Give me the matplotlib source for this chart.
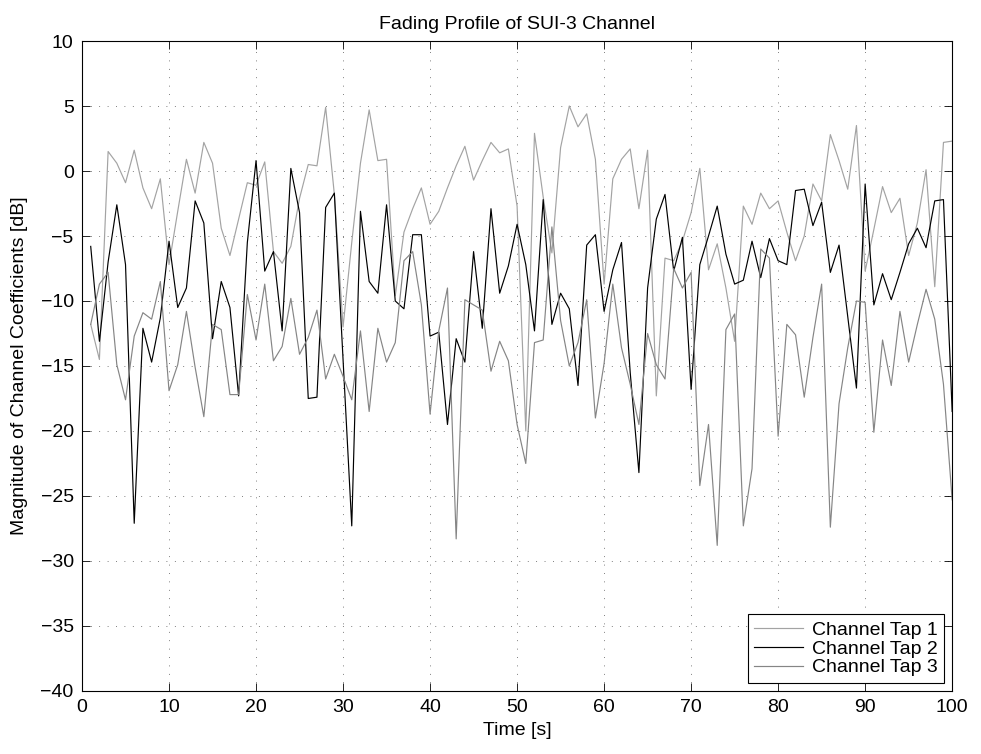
#!/usr/bin/env python3
"""Fading profile of SUI-3 channel taps."""
import matplotlib
matplotlib.use('Agg')
import matplotlib.pyplot as plt

plt.rcParams['font.family'] = ['Liberation Sans', 'DejaVu Sans']

time_s = list(range(1, 101))

tap1_db = [
    -11.8, -14.5, 1.5, 0.6, -0.9, 1.6, -1.3, -2.9, -0.6, -7.2,
    -3.1, 0.9, -1.7, 2.2, 0.6, -4.4, -6.5, -3.7, -0.9, -1.1,
    0.7, -6.2, -7.1, -5.8, -2.1, 0.5, 0.4, 4.9, -1.8, -12.0,
    -5.5, 0.6, 4.7, 0.8, 0.9, -9.6, -4.7, -2.9, -1.3, -4.1,
    -3.1, -1.3, 0.4, 1.9, -0.7, 0.8, 2.2, 1.4, 1.7, -2.7,
    -20.0, 2.9, -2.0, -6.3, 1.8, 5.0, 3.4, 4.4, 0.9, -8.7,
    -0.6, 0.9, 1.7, -2.9, 1.6, -17.3, -6.7, -6.9, -5.4, -3.2,
    0.2, -7.6, -5.6, -9.0, -13.1, -2.7, -4.1, -1.7, -2.9, -2.3,
    -4.7, -6.9, -5.0, -1.0, -2.3, 2.8, 0.8, -1.4, 3.5, -7.7,
    -4.5, -1.2, -3.2, -2.1, -6.5, -4.0, 0.1, -8.9, 2.2, 2.3,
]

tap2_db = [
    -5.8, -13.1, -7.0, -2.6, -7.2, -27.1, -12.1, -14.7, -11.3, -5.4,
    -10.5, -9.0, -2.3, -4.0, -12.9, -8.5, -10.5, -17.3, -5.5, 0.8,
    -7.7, -6.2, -12.3, 0.2, -3.2, -17.5, -17.4, -2.8, -1.7, -14.5,
    -27.3, -3.1, -8.5, -9.4, -2.6, -10.0, -10.6, -4.9, -4.9, -12.7,
    -12.4, -19.5, -12.9, -14.7, -6.2, -12.1, -2.9, -9.4, -7.3, -4.1,
    -7.2, -12.3, -2.2, -11.8, -9.4, -10.6, -16.5, -5.7, -4.9, -10.8,
    -7.6, -5.5, -15.5, -23.2, -9.0, -3.7, -1.8, -7.7, -5.1, -16.8,
    -7.2, -5.0, -2.7, -6.4, -8.7, -8.4, -5.4, -8.2, -5.2, -6.9,
    -7.2, -1.5, -1.4, -4.2, -2.4, -7.8, -5.7, -11.2, -16.7, -1.0,
    -10.3, -7.9, -9.9, -7.8, -5.6, -4.4, -5.9, -2.3, -2.2, -18.5,
]

tap3_db = [
    -11.8, -8.7, -7.8, -14.9, -17.6, -12.7, -10.9, -11.4, -8.5, -16.9,
    -14.9, -10.8, -15.1, -18.9, -11.8, -12.2, -17.2, -17.2, -9.5, -13.0,
    -8.7, -14.6, -13.5, -9.8, -14.1, -12.8, -10.7, -16.0, -14.1, -15.8,
    -17.6, -12.3, -18.5, -12.1, -14.7, -13.2, -6.9, -6.2, -10.3, -18.7,
    -12.3, -9.0, -28.3, -9.9, -10.3, -10.7, -15.4, -13.1, -14.6, -19.5,
    -22.5, -13.2, -13.0, -4.3, -11.5, -15.0, -13.2, -9.9, -19.0, -14.8,
    -8.7, -13.6, -16.4, -19.5, -12.5, -14.9, -16.0, -7.5, -9.0, -7.8,
    -24.2, -19.5, -28.8, -12.2, -11.0, -27.3, -22.9, -6.0, -6.7, -20.4,
    -11.8, -12.6, -17.4, -12.8, -8.7, -27.4, -17.9, -13.6, -10.0, -10.1,
    -20.1, -13.0, -16.5, -10.8, -14.7, -11.8, -9.1, -11.4, -16.4, -25.3,
]

labels = ['Channel Tap 1', 'Channel Tap 2', 'Channel Tap 3']
colors = ['#a3a3a3', '#000000', '#858585']

fig = plt.figure(figsize=(9.81, 7.54), dpi=100)
ax = fig.add_axes([0.0836, 0.0836, 0.887, 0.862])

for ys, lab, c in zip([tap1_db, tap2_db, tap3_db], labels, colors):
    ax.plot(time_s, ys, color=c, linewidth=0.85, label=lab)

ax.set_xlim(0, 100)
ax.set_ylim(-40, 10)
ax.set_xticks(range(0, 101, 10))
ax.set_yticks(range(-40, 11, 5))
ax.tick_params(direction='in', top=True, right=True, length=6, width=0.6,
               labelsize=14, pad=6)
for s in ax.spines.values():
    s.set_linewidth(0.8)
ax.grid(True, color='#333333', linestyle=(0, (1, 10)), linewidth=0.55)

ax.set_title('Fading Profile of SUI-3 Channel', fontsize=14, pad=9)
ax.set_xlabel('Time [s]', fontsize=14, labelpad=4)
ax.set_ylabel('Magnitude of Channel Coefficients [dB]', fontsize=14, labelpad=9)

leg = ax.legend(loc='lower right', fontsize=14, fancybox=False, framealpha=1,
                edgecolor='black', borderpad=0.35, labelspacing=0.06,
                handlelength=2.5, handletextpad=0.45, borderaxespad=0.4)
leg.get_frame().set_linewidth(0.8)

plt.savefig('out.png', dpi=100, facecolor='white')
